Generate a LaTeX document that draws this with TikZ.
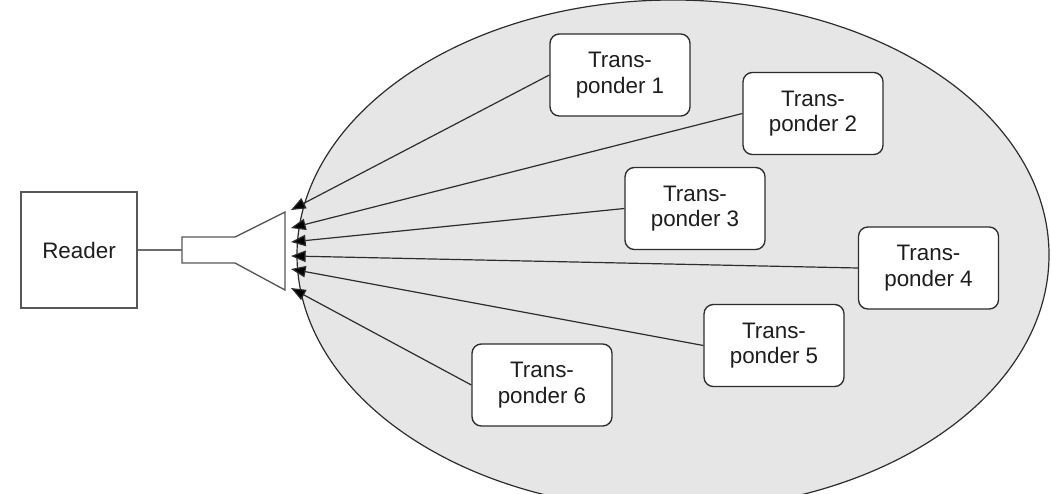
\documentclass[tikz,border=0pt]{standalone}
\usepackage{fontspec}
\setmainfont{Liberation Sans}
\usetikzlibrary{arrows.meta}
\definecolor{zone}{RGB}{230,230,231}
\definecolor{ink}{RGB}{45,45,45}
\definecolor{txt}{RGB}{30,30,30}
\begin{document}
\begin{tikzpicture}[x=0.75pt,y=-0.75pt,
  tbox/.style={draw=ink,line width=1pt,fill=white,rounded corners=7pt,
    minimum width=105pt,minimum height=61.5pt,align=center,inner sep=0pt,
    text=txt,font=\fontsize{16.8}{19}\selectfont},
  rbox/.style={draw=ink!80,line width=1pt,fill=white,
    minimum width=87pt,minimum height=87pt,inner sep=0pt,
    text=txt,font=\fontsize{16.8}{19}\selectfont},
  conn/.style={draw=ink,line width=0.9pt},
  sig/.style={conn,-{Triangle[length=11pt,width=8.5pt,fill=black]}}]
\useasboundingbox (0,0) rectangle (1052,493);
\fill[white] (0,0) rectangle (1052,493);
% coverage zone
\begin{scope}
  \clip (0,0) rectangle (1052,493);
  \draw[ink,line width=0.9pt,fill=zone] (673,255) ellipse [x radius=376, y radius=255];
\end{scope}
% reader and antenna
\node[rbox] (reader) at (79,250) {Reader};
\draw[ink!80,line width=1pt,fill=white] (182,237) -- (235,237) -- (285,212) -- (285,290) -- (235,263) -- (182,263) -- cycle;
\coordinate (ant) at (182,250);
\draw[conn,draw=ink!70] (reader.east) -- (ant);
% transponders
\node[tbox] (b1) at (620,75) {Trans-\\ponder 1};
\node[tbox] (b2) at (813,113.5) {Trans-\\ponder 2};
\node[tbox] (b3) at (695,208.5) {Trans-\\ponder 3};
\node[tbox] (b4) at (928.5,268) {Trans-\\ponder 4};
\node[tbox] (b5) at (774,345.5) {Trans-\\ponder 5};
\node[tbox] (b6) at (542,385) {Trans-\\ponder 6};
% arrow tips at the antenna
\coordinate (t1) at (291,210);
\coordinate (t2) at (291,228);
\coordinate (t3) at (291,242);
\coordinate (t4) at (291,256);
\coordinate (t5) at (291,269);
\coordinate (t6) at (291,288);
\foreach \i in {1,...,6} { \draw[sig] (b\i.west) -- (t\i); }
\end{tikzpicture}
\end{document}
